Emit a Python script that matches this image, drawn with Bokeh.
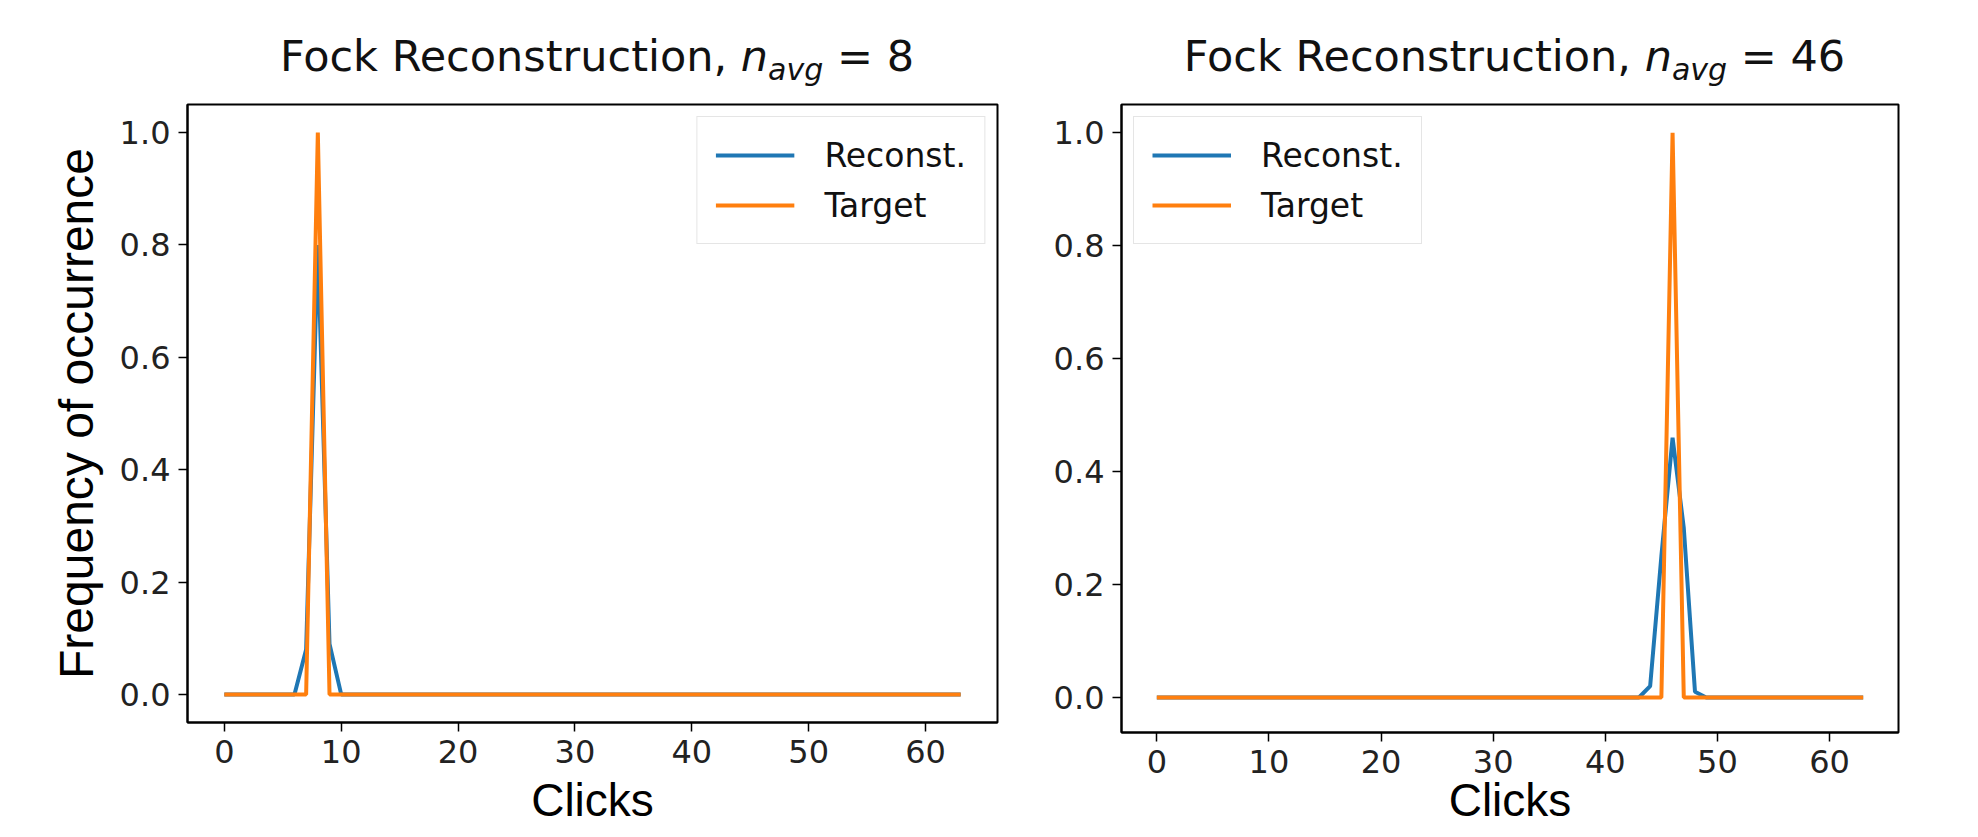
from bokeh.plotting import figure
from bokeh.models import Range1d, FixedTicker, NumeralTickFormatter, Div
from bokeh.layouts import row, column
from bokeh.embed import file_html
from bokeh.resources import INLINE

# ---------------- data ----------------
clicks = list(range(64))

reconst_8 = [0.0] * 7 + [0.08, 0.80, 0.09] + [0.0] * 54
target_8 = [0.0] * 8 + [1.0] + [0.0] * 55

reconst_46 = [0.0] * 44 + [0.02, 0.25, 0.46, 0.30, 0.01] + [0.0] * 15
target_46 = [0.0] * 46 + [1.0] + [0.0] * 17

n_avg_labels = ["8", "46"]
series_names = ["Reconst.", "Target"]
x_tick_values = [0, 10, 20, 30, 40, 50, 60]
y_tick_values = [0.0, 0.2, 0.4, 0.6, 0.8, 1.0]
x_label = "Clicks"
y_label = "Frequency of occurrence"
title_main = "Fock Reconstruction, "

BLUE = "#1f77b4"
ORANGE = "#ff7f0e"
TICK_FONT = "DejaVu Sans"
LABEL_FONT = "Liberation Sans"

DIV_H = 86
BORDER_TOP = 8
TOTAL_H = 821
FIG_H = TOTAL_H - DIV_H


def make_panel(reconst, target, n_label, width, border_left, border_right,
               frame_h, y_min, legend_loc, with_ylabel, xlabel_standoff):
    border_bottom = FIG_H - BORDER_TOP - frame_h
    frame_w = width - border_left - border_right
    p = figure(width=width, height=FIG_H, output_backend="svg",
               toolbar_location=None, x_range=Range1d(-3.15, 66.15),
               y_range=Range1d(y_min, 1.05),
               min_border_left=border_left, min_border_right=border_right,
               min_border_top=BORDER_TOP, min_border_bottom=border_bottom)
    p.background_fill_color = "white"
    p.border_fill_color = "white"
    p.outline_line_color = "black"
    p.outline_line_width = 2
    p.grid.visible = False

    p.line(clicks, reconst, line_color=BLUE, line_width=4, legend_label=series_names[0])
    p.line(clicks, target, line_color=ORANGE, line_width=4, legend_label=series_names[1])

    for ax in (p.xaxis[0], p.yaxis[0]):
        ax.axis_line_color = "black"
        ax.axis_line_width = 2
        ax.major_tick_line_color = "black"
        ax.major_tick_line_width = 1.5
        ax.major_tick_out = 9
        ax.major_tick_in = 0
        ax.minor_tick_line_color = None
        ax.major_label_text_font = TICK_FONT
        ax.major_label_text_font_size = "32px"
        ax.major_label_text_color = "#222222"
        ax.major_label_standoff = 8
    p.xaxis.ticker = FixedTicker(ticks=x_tick_values)
    p.yaxis.ticker = FixedTicker(ticks=y_tick_values)
    p.yaxis.formatter = NumeralTickFormatter(format="0.0")

    p.xaxis.axis_label = x_label
    p.xaxis.axis_label_text_font = LABEL_FONT
    p.xaxis.axis_label_text_font_size = "46px"
    p.xaxis.axis_label_text_font_style = "normal"
    p.xaxis.axis_label_text_color = "black"
    p.xaxis.axis_label_standoff = xlabel_standoff

    if with_ylabel:
        p.yaxis.axis_label = y_label
        p.yaxis.axis_label_text_font = LABEL_FONT
        p.yaxis.axis_label_text_font_size = "48px"
        p.yaxis.axis_label_text_font_style = "normal"
        p.yaxis.axis_label_text_color = "black"
        p.yaxis.axis_label_standoff = 14

    lg = p.legend[0]
    lg.location = legend_loc
    lg.margin = 12
    lg.padding = 18
    lg.spacing = 10
    lg.glyph_width = 79
    lg.glyph_height = 40
    lg.label_height = 40
    lg.label_standoff = 30
    lg.label_text_font = TICK_FONT
    lg.label_text_font_size = "33px"
    lg.label_text_color = "#111111"
    lg.border_line_color = "#cccccc"
    lg.border_line_width = 1.5
    lg.background_fill_color = "white"
    lg.background_fill_alpha = 0.8

    title_html = (
        f'<div style="font-family:\'DejaVu Sans\'; font-size:43px; color:#111111; '
        f'width:{frame_w}px; margin-left:{border_left}px; text-align:center; '
        f'line-height:43px; padding-top:30px; white-space:nowrap;">'
        f'{title_main}<i>n</i><sub style="font-size:30px; font-style:italic; '
        f'vertical-align:-9px; line-height:0;">avg</sub> = {n_label}</div>'
    )
    title_div = Div(text=title_html, width=width, height=DIV_H)
    return column(title_div, p)


c1 = make_panel(reconst_8, target_8, n_avg_labels[0], width=1036,
                border_left=187, border_right=39, frame_h=618, y_min=-0.05,
                legend_loc="top_right", with_ylabel=True, xlabel_standoff=8)
c2 = make_panel(reconst_46, target_46, n_avg_labels[1], width=926,
                border_left=75, border_right=74, frame_h=628, y_min=-0.062,
                legend_loc="top_left", with_ylabel=False, xlabel_standoff=-2)

layout = row(c1, c2)
open("out.html", "w").write(file_html(layout, INLINE))
